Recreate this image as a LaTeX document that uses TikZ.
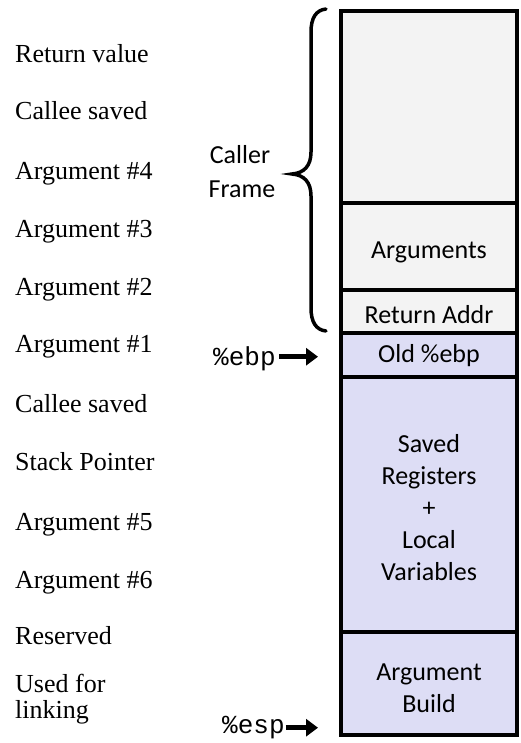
\documentclass[tikz,border=0pt]{standalone}
\usepackage{fontspec}
\setmainfont{Liberation Serif}
\newfontfamily\calfont{Carlito}
\newfontfamily\monofont{Liberation Mono}
\usetikzlibrary{arrows.meta}
\definecolor{cellgray}{HTML}{F3F3F3}
\definecolor{celllav}{HTML}{DDDDF5}
\begin{document}
\begin{tikzpicture}[x=1pt,y=-1pt,
  cellbox/.style={draw=black,line width=4pt,minimum width=176pt,inner sep=0pt,outer sep=0pt},
  graycell/.style={cellbox,fill=cellgray},
  lavcell/.style={cellbox,fill=celllav},
  celltext/.style={font=\calfont\fontsize{26}{31}\selectfont,anchor=base,inner sep=0pt},
  reglabel/.style={font=\fontsize{26}{31}\selectfont,anchor=base west,inner sep=0pt},
  ptrlabel/.style={font=\monofont\fontsize{26}{31}\selectfont,anchor=base west,inner sep=0pt},
  ptr/.style={line width=5.5pt,-{Triangle[length=12pt,width=17pt]}}]
\useasboundingbox (0,0) rectangle (520,743);
% stack cells
\node[graycell,minimum height=192pt] (b1) at (429,107) {};
\node[graycell,minimum height=87pt] (b2) at (429,246.5) {};
\node[graycell,minimum height=43pt] (b3) at (429,311.5) {};
\node[lavcell,minimum height=44pt] (b4) at (429,355) {};
\node[lavcell,minimum height=255pt] (b5) at (429,504.5) {};
\node[lavcell,minimum height=103pt] (b6) at (429,683.5) {};
% cell texts
\node[celltext] (t2) at (429,258) {Arguments};
\node[celltext] (t3) at (429,323) {Return Addr};
\node[celltext] (t4) at (429,362) {Old \%ebp};
\node[celltext] (t5a) at (429,452) {Saved};
\node[celltext] (t5b) at (429,484) {Registers};
\node[celltext] (t5c) at (429,516) {+};
\node[celltext] (t5d) at (429,548) {Local};
\node[celltext] (t5e) at (429,580) {Variables};
\node[celltext] (t6a) at (429,680) {Argument};
\node[celltext] (t6b) at (429,712) {Build};
% brace
\draw[line width=3.5pt,line cap=round] (326,9) .. controls (316,10) and (311,18) .. (311,32)
  -- (311,152) .. controls (311,166) and (304,173) .. (292,174)
  .. controls (304,175) and (311,182) .. (311,196)
  -- (311,308) .. controls (311,322) and (316,330) .. (326,331);
\node[celltext] (cf1) at (240,164) {Caller};
\node[celltext] (cf2) at (242,198) {Frame};
% pointers
\node[ptrlabel] (ebp) at (213,365) {\%ebp};
\node[ptrlabel] (esp) at (222,733) {\%esp};
\draw[ptr,shorten >=23pt] ([xshift=3pt,yshift=6pt]ebp.mid east) -- ([yshift=6pt]ebp.mid east -| b4.west);
\draw[ptr,shorten >=23pt] ([xshift=1pt,yshift=3pt]esp.mid east) -- ([yshift=3pt]esp.mid east -| b6.west);
% register labels
\node[reglabel] (r1) at (15,63) {Return value};
\node[reglabel] (r2) at (15,120) {Callee saved};
\node[reglabel] (r3) at (15,180) {Argument \#4};
\node[reglabel] (r4) at (15,237) {Argument \#3};
\node[reglabel] (r5) at (15,295) {Argument \#2};
\node[reglabel] (r6) at (15,352) {Argument \#1};
\node[reglabel] (r7) at (15,412) {Callee saved};
\node[reglabel] (r8) at (15,470) {Stack Pointer};
\node[reglabel] (r9) at (15,530) {Argument \#5};
\node[reglabel] (r10) at (15,588) {Argument \#6};
\node[reglabel] (r11) at (15,644) {Reserved};
\node[reglabel] (r12) at (15,692) {Used for};
\node[reglabel] (r13) at (15,718) {linking};
\end{tikzpicture}
\end{document}
